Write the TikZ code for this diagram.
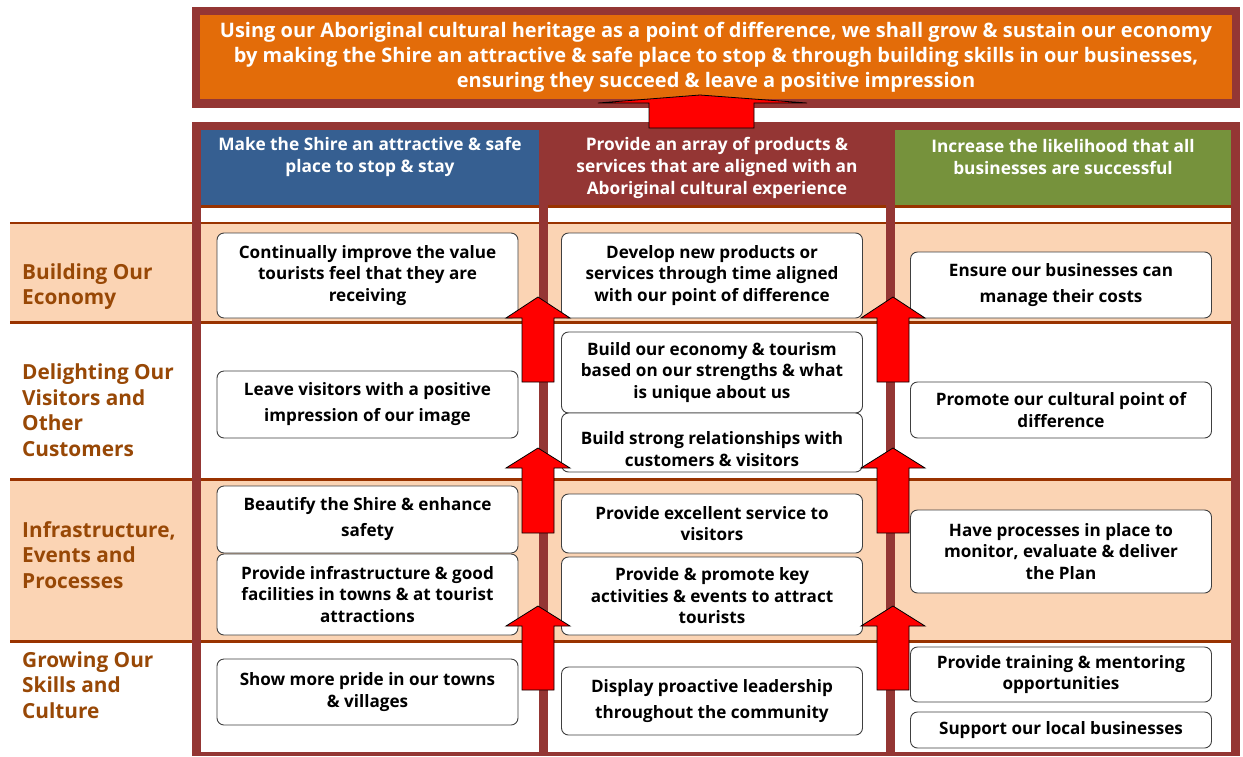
\documentclass[tikz,border=0pt]{standalone}
\usepackage{fontspec}
\setmainfont{Open Sans}
\definecolor{framered}{HTML}{943634}
\definecolor{bannerorange}{HTML}{E36C09}
\definecolor{headblue}{HTML}{365F91}
\definecolor{headgreen}{HTML}{76923C}
\definecolor{peach}{HTML}{FBD4B4}
\definecolor{brownline}{HTML}{993300}
\definecolor{labelbrown}{HTML}{984806}
\definecolor{arrowred}{HTML}{FF0000}
\newcommand\myuparrow[4]{%
  \filldraw[bigarrow] (#1,#2) -- (#1+32,#3) -- (#1+16,#3) -- (#1+16,#4) -- (#1-16,#4) -- (#1-16,#3) -- (#1-32,#3) -- cycle;}
\begin{document}
\begin{tikzpicture}[x=1pt,y=-1pt,
  box/.style={draw=black!75, fill=white, rounded corners=7pt, line width=0.9pt, inner sep=0pt,
    minimum width=301pt, align=center, font=\bfseries\fontsize{17.1}{21.5}\selectfont},
  boxtext/.style={inner sep=0pt, align=center, font=\bfseries\fontsize{17.1}{21.5}\selectfont},
  headtext/.style={inner sep=0pt, align=center, text=white, font=\bfseries\fontsize{17.3}{22}\selectfont},
  titletext/.style={inner sep=0pt, align=center, text=white, font=\bfseries\fontsize{20}{25}\selectfont},
  rowlabel/.style={inner sep=0pt, anchor=west, align=left, text=labelbrown, font=\bfseries\fontsize{20.8}{25.5}\selectfont},
  bigarrow/.style={fill=arrowred, draw=black, line width=0.8pt, line join=miter},
  rowline/.style={draw=brownline, line width=3pt}]
\useasboundingbox (0,0) rectangle (1243,756);
\fill[white] (0,0) rectangle (1243,756);

% banner
\fill[framered] (192,7) rectangle (1240,108);
\fill[bannerorange] (200,15) rectangle (1232,99);
\node[titletext] (title) at (716,57) {Using our Aboriginal cultural heritage as a point of difference, we shall grow \& sustain our economy\\
by making the Shire an attractive \& safe place to stop \& through building skills in our businesses,\\
ensuring they succeed \& leave a positive impression};

% row bands
\fill[peach] (10,223) rectangle (1240,322);
\fill[peach] (10,479) rectangle (1240,641);
\draw[rowline, line width=2pt] (10,223) -- (1240,223);
\draw[rowline] (10,322) -- (1240,322);
\draw[rowline] (10,479) -- (1240,479);
\draw[rowline] (10,641) -- (1240,641);

% main frame
\fill[framered] (192,122) rectangle (1240,130);
\fill[framered] (192,122) rectangle (201,756);
\fill[framered] (1231,122) rectangle (1240,756);
\fill[framered] (192,752) rectangle (1240,756);
\fill[framered] (539,122) rectangle (548,756);
\fill[framered] (886,122) rectangle (895,756);
\fill[framered] (548,130) rectangle (886,206);
\fill[headblue] (201,130) rectangle (539,206);
\fill[headgreen] (895,130) rectangle (1231,206);
\fill[brownline] (201,205) rectangle (539,208);
\fill[brownline] (548,205) rectangle (886,208);
\fill[brownline] (895,205) rectangle (1231,208);

% headers
\node[headtext] (h1) at (370,157) {Make the Shire an attractive \& safe\\place to stop \& stay};
\node[headtext] (h2) at (717,167.5) {Provide an array of products \&\\services that are aligned with an\\Aboriginal cultural experience};
\node[headtext] (h3) at (1063,157) {Increase the likelihood that all\\businesses are successful};

% row labels
\node[rowlabel] (r1) at (22,286.5) {Building Our\\Economy};
\node[rowlabel] (r2) at (22,410) {Delighting Our\\Visitors and\\Other\\Customers};
\node[rowlabel] (r3) at (22,555) {Infrastructure,\\Events and\\Processes};
\node[rowlabel] (r4) at (22,685) {Growing Our\\Skills and\\Culture};

% column 1 boxes
\node[box, minimum height=85pt] (a1) at (367.5,275.5) {Continually improve the value\\tourists feel that they are\\receiving};
\node[box, minimum height=67pt] (a2) at (367.5,404.5) {Leave visitors with a positive\\[4.5pt]impression of our image};
\node[box, minimum height=67pt] (a3) at (367.5,519.5) {Beautify the Shire \& enhance\\[4.5pt]safety};
\node[box, minimum height=81pt] (a4) at (367.5,594.5) {Provide infrastructure \& good\\facilities in towns \& at tourist\\attractions};
\node[box, minimum height=66pt] (a5) at (367.5,692) {Show more pride in our towns\\\& villages};

% column 2 boxes
\node[box, minimum height=85pt] (b1) at (712,275.5) {Develop new products or\\services through time aligned\\with our point of difference};
\node[box, minimum height=81pt] (b2) at (712,372.5) {Build our economy \& tourism\\based on our strengths \& what\\is unique about us};
\node[box, minimum height=59pt] (b3) at (712,442.5) {};
\node[boxtext] (b3t) at (712,449) {Build strong relationships with\\customers \& visitors};
\node[box, minimum height=59pt] (b4) at (712,523.5) {Provide excellent service to\\visitors};
\node[box, minimum height=78pt] (b5) at (712,596) {Provide \& promote key\\activities \& events to attract\\tourists};
\node[box, minimum height=68pt] (b6) at (712,701) {Display proactive leadership\\[4pt]throughout the community};

% column 3 boxes
\node[box, minimum height=66pt] (c1) at (1061,285) {Ensure our businesses can\\[4.5pt]manage their costs};
\node[box, minimum height=56pt] (c2) at (1061,410) {Promote our cultural point of\\difference};
\node[box, minimum height=83pt] (c3) at (1061,551.5) {Have processes in place to\\monitor, evaluate \& deliver\\the Plan};
\node[box, minimum height=55pt] (c4) at (1061,674.5) {Provide training \& mentoring\\opportunities};
\node[box, minimum height=36pt] (c5) at (1061,730) {Support our local businesses};

% arrows
\myuparrow{538}{297}{318}{382}
\myuparrow{538}{448}{468}{533}
\myuparrow{538}{606}{626}{690}
\myuparrow{893}{297}{318}{382}
\myuparrow{893}{448}{468}{533}
\myuparrow{893}{606}{626}{690}
\filldraw[bigarrow] (700,95) -- (807,103) -- (754,103) -- (754,128) -- (649,128) -- (649,103) -- (598,103) -- cycle;
\end{tikzpicture}
\end{document}
